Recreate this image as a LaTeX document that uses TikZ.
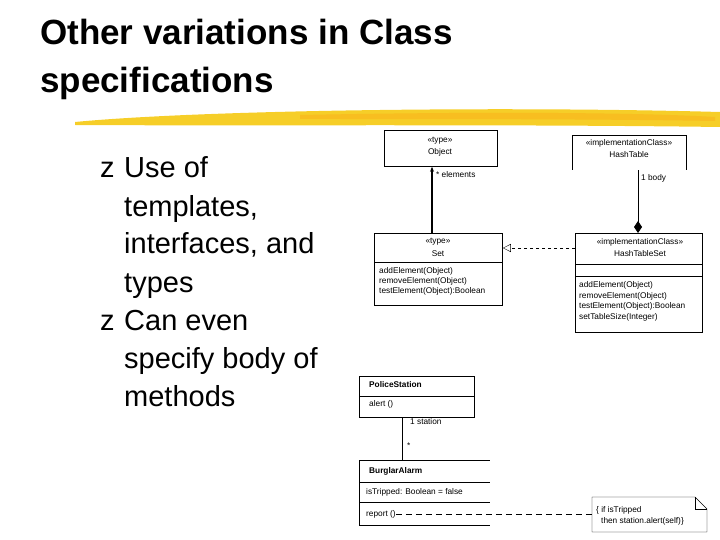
\documentclass[tikz,border=0pt]{standalone}
\usepackage{fontspec}
\setmainfont{Liberation Sans}
\usetikzlibrary{arrows.meta,positioning,shapes.geometric}
\definecolor{Brush}{RGB}{246,206,40}
\tikzset{
  umlbox/.style={draw,thick,inner sep=0pt,anchor=north west},
  tiny/.style={font=\fontsize{8.3}{9}\selectfont,inner sep=0pt},
  bullet/.style={font=\fontsize{29}{38}\selectfont,anchor=base west,inner sep=0pt}
}
\begin{document}
\begin{tikzpicture}[x=1pt,y=-1pt]
\useasboundingbox (0,0) rectangle (720,540);

	% title and brush stroke
	\node[anchor=base west,inner sep=0pt,font=\fontsize{35}{40}\bfseries] (title1) at (40,45) {Other variations in Class};
	\node[anchor=base west,inner sep=0pt,font=\fontsize{35}{40}\bfseries] (title2) at (40,93) {specifications};
	\fill[Brush] (75,122) .. controls (200,110) and (500,106) .. (720,112) -- (720,127) .. controls (500,124) and (250,126) .. (75,125) -- cycle;
	\fill[Brush!80!orange] (300,115) .. controls (500,111) and (650,113) .. (715,117) -- (715,121) .. controls (600,119) and (450,119) .. (300,119) -- cycle;

	% bullet text
	\node[bullet] (z1) at (100,178) {z};
	\node[bullet] (b1) at (124,178) {Use of};
	\node[bullet] (b2) at (124,216) {templates,};
	\node[bullet] (b3) at (124,254) {interfaces, and};
	\node[bullet] (b4) at (124,292) {types};
	\node[bullet] (z2) at (100,330) {z};
	\node[bullet] (b5) at (124,330) {Can even};
	\node[bullet] (b6) at (124,368) {specify body of};
	\node[bullet] (b7) at (124,406) {methods};

	% Object and HashTable
	\node[umlbox,minimum width=113,minimum height=36] (object) at (384,130) {};
	\node[tiny] at (440,141) {«type»};
	\node[tiny] at (440,152) {Object};
	\draw[thick] (572,170) -- (572,135) -- (686,135) -- (686,170);
	\coordinate (hashtable) at (638,170);
	\node[tiny] at (629,143) {«implementationClass»};
	\node[tiny] at (629,155) {HashTable};

	% Set
	\node[umlbox,minimum width=128,minimum height=72] (set) at (374,233) {};
	\draw[thick] (374,262) -- (502,262);
	\node[tiny] at (438,242) {«type»};
	\node[tiny] at (438,254) {Set};
	\node[tiny,anchor=west] at (379,271) {addElement(Object)};
	\node[tiny,anchor=west] at (379,281) {removeElement(Object)};
	\node[tiny,anchor=west] at (379,291) {testElement(Object):Boolean};

	% HashTableSet
	\node[umlbox,minimum width=127,minimum height=99] (hts) at (575,233) {};
	\draw[thick] (575,264) -- (702,264);
	\draw[thick] (575,276) -- (702,276);
	\node[tiny] at (640,242) {«implementationClass»};
	\node[tiny] at (640,254) {HashTableSet};
	\node[tiny,anchor=west] at (579,285) {addElement(Object)};
	\node[tiny,anchor=west] at (579,296) {removeElement(Object)};
	\node[tiny,anchor=west] at (579,306) {testElement(Object):Boolean};
	\node[tiny,anchor=west] at (579,317) {setTableSize(Integer)};

	\draw[very thick,-{Stealth[length=5pt,width=4pt]}] (set.north -| 432,0) -- (object.south -| 432,0);
	\node[tiny,anchor=west] at (436,175) {* elements};
	\draw[thick,{Diamond[length=12pt,width=8pt]}-] (hts.north -| hashtable) -- (hashtable);
	\node[tiny,anchor=west] at (641,178) {1 body};
	\draw[dashed,-{Triangle[open,length=8pt,width=8pt]}] (hts.west |- 0,248) -- (set.east |- 0,248);

	% PoliceStation and BurglarAlarm
	\node[umlbox,minimum width=115,minimum height=41] (police) at (359,376) {};
	\draw[thick] (359,396) -- (474,396);
	\node[tiny,anchor=west,font=\fontsize{8.3}{9}\bfseries] at (369,385) {PoliceStation};
	\node[tiny,anchor=west] at (369,404) {alert ()};
	\coordinate (alarm) at (402,460);
	\draw[thick] (359,460) -- (490,460);
	\draw[thick] (359,482) -- (490,482);
	\draw[thick] (359,502) -- (490,502);
	\draw[thick] (359,525) -- (490,525);
	\draw[thick] (359,460) -- (359,525);
	\node[tiny,anchor=west,font=\fontsize{8.3}{9}\bfseries] at (369,471) {BurglarAlarm};
	\node[tiny,anchor=west] at (366,492) {isTripped: Boolean = false};
	\node[tiny,anchor=west] (report) at (366,514) {report ()};
	\draw (police.south -| alarm) -- (alarm);
	\node[tiny,anchor=west] at (410,422) {1 station};
	\node[tiny,anchor=west] at (407,446) {*};

	% note
	\draw (592,497) -- (695,497) -- (707,509) -- (707,532) -- (592,532) -- cycle;
	\draw (695,497) -- (695,509) -- (707,509);
	\coordinate (note) at (592,514);
	\node[tiny,anchor=west] at (596,510) {\{ if isTripped};
	\node[tiny,anchor=west] at (601,521) {then station.alert(self)\}};
	\draw[thick,dashed,dash pattern=on 6pt off 4pt] (report.east) -- (note);

\end{tikzpicture}
\end{document}
